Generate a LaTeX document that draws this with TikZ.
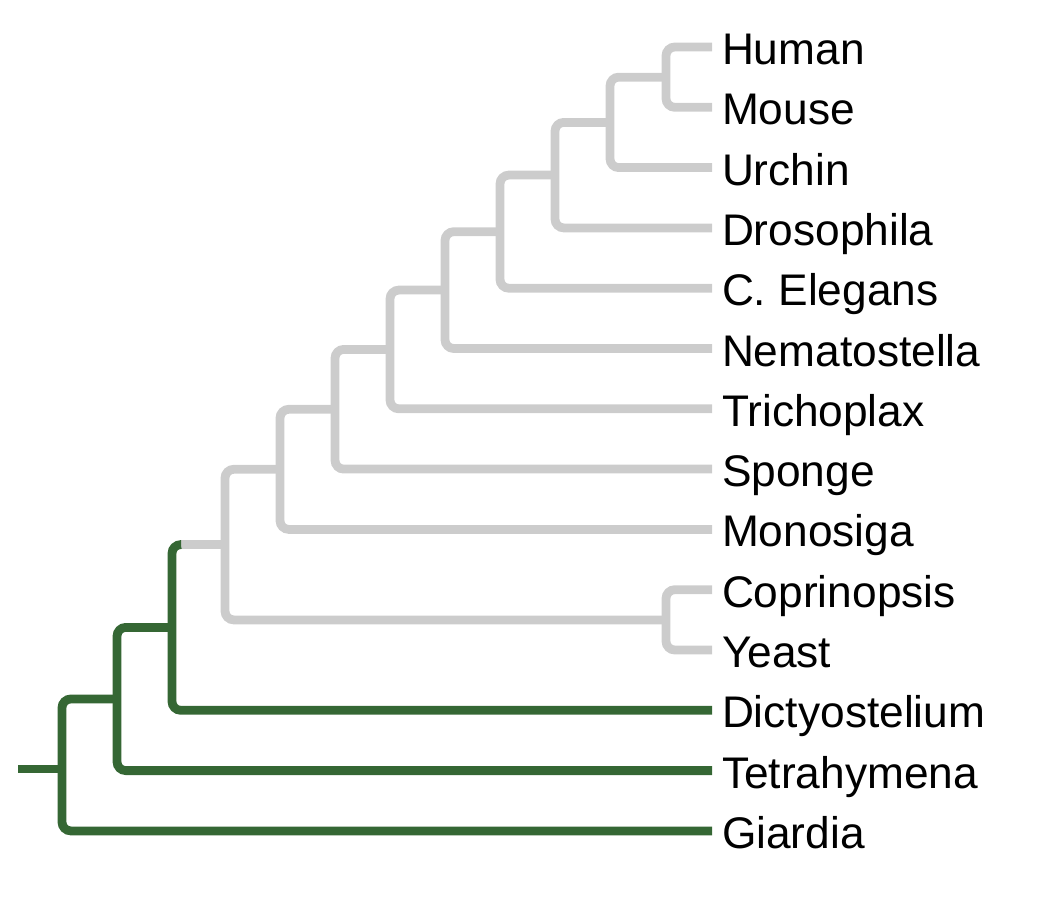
\documentclass[tikz,border=0pt]{standalone}
\usepackage{fontspec}
\setmainfont{Liberation Sans}
\usepackage{tikz}
\usetikzlibrary{positioning}
\definecolor{TreeGreen}{RGB}{53, 103, 52}
\definecolor{TreeGray}{RGB}{204, 204, 204}
\tikzset{
    branch/.style={line width=5pt, rounded corners=5pt},
    graybranch/.style={branch, draw=TreeGray},
    greenbranch/.style={branch, draw=TreeGreen},
    leaf/.style={anchor=west, inner xsep=5.5pt, inner ysep=0pt, text height=20pt, text depth=0pt,
        font=\fontsize{25.2}{28}\selectfont}
}

\begin{document}
\begin{tikzpicture}[x=0.02cm, y=-0.02cm]
    \useasboundingbox (0,0) rectangle (1049,900);

    % taxa
    \foreach \nm/\txt [count=\i from 0] in {human/Human, mouse/Mouse, urchin/Urchin,
        drosophila/Drosophila, celegans/C. Elegans, nematostella/Nematostella,
        trichoplax/Trichoplax, sponge/Sponge, monosiga/Monosiga, coprinopsis/Coprinopsis,
        yeast/Yeast, dictyostelium/Dictyostelium, tetrahymena/Tetrahymena, giardia/Giardia}
        \node[leaf] (\nm) at (712, 47+60.3*\i) {\txt};

    % internal nodes
    \coordinate (hm)  at (666, 77.15);
    \coordinate (hmu) at (610, 122.4);
    \coordinate (dro) at (555, 175.1);
    \coordinate (cel) at (500, 231.7);
    \coordinate (nem) at (445, 290.1);
    \coordinate (tri) at (390, 349.4);
    \coordinate (spo) at (335, 409.3);
    \coordinate (mon) at (280, 469.3);
    \coordinate (fun) at (666, 619.9);
    \coordinate (opi) at (225, 544.6);
    \coordinate (opistub) at (181, 544.6);
    \coordinate (dic) at (172, 627.4);
    \coordinate (tet) at (117, 699);
    \coordinate (gia) at (62, 766);
    \coordinate (root) at (18, 769);

    % gray part of the tree
    \draw[graybranch] (human.west) -| (hm) |- (mouse.west);
    \draw[graybranch] (hm) -| (hmu) |- (urchin.west);
    \draw[graybranch] (hmu) -| (dro) |- (drosophila.west);
    \draw[graybranch] (dro) -| (cel) |- (celegans.west);
    \draw[graybranch] (cel) -| (nem) |- (nematostella.west);
    \draw[graybranch] (nem) -| (tri) |- (trichoplax.west);
    \draw[graybranch] (tri) -| (spo) |- (sponge.west);
    \draw[graybranch] (spo) -| (mon) |- (monosiga.west);
    \draw[graybranch] (coprinopsis.west) -| (fun) |- (yeast.west);
    \draw[graybranch] (mon) -| (opi) |- (fun);
    \draw[graybranch] (opistub) -- (opi);

    % green part of the tree
    \draw[greenbranch] (opistub) -| (dic) |- (dictyostelium.west);
    \draw[greenbranch] (dic) -| (tet) |- (tetrahymena.west);
    \draw[greenbranch] (tet) -| (gia) |- (giardia.west);
    \draw[greenbranch] (root) -- (root -| gia);
\end{tikzpicture}
\end{document}
